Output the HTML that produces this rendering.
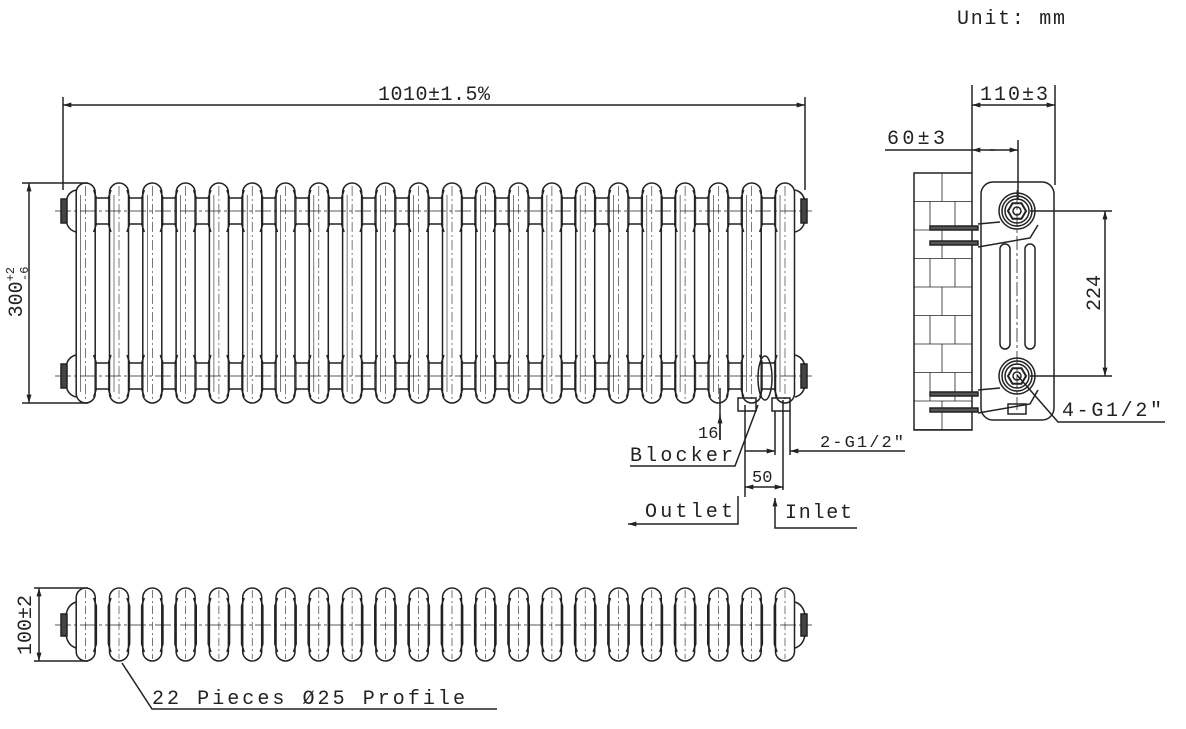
<!DOCTYPE html>
<html><head><meta charset="utf-8"><style>
html,body{margin:0;padding:0;background:#fff;}
svg{display:block;}
text{font-family:"Liberation Mono","DejaVu Sans Mono",monospace;fill:#222;}
</style></head><body>
<svg id="s" width="1186" height="729" viewBox="0 0 1186 729" xmlns="http://www.w3.org/2000/svg">
<defs>
<marker id="a" viewBox="0 0 10 6" refX="10" refY="3" markerWidth="12" markerHeight="5" orient="auto-start-reverse" markerUnits="userSpaceOnUse"><path d="M0,0L10,3L0,6z" fill="#222"/></marker>
</defs>
<g stroke="#222" fill="none" stroke-width="1.5" id="g">
<line x1="63" y1="97" x2="63" y2="190"/>
<line x1="805" y1="97" x2="805" y2="190"/>
<line x1="63" y1="105" x2="805" y2="105" marker-start="url(#a)" marker-end="url(#a)"/>
<line x1="22" y1="183" x2="88" y2="183"/>
<line x1="22" y1="403" x2="88" y2="403"/>
<line x1="29" y1="183" x2="29" y2="403" marker-start="url(#a)" marker-end="url(#a)"/>
<line x1="34" y1="588" x2="88" y2="588"/>
<line x1="34" y1="661" x2="88" y2="661"/>
<line x1="39" y1="588" x2="39" y2="661" marker-start="url(#a)" marker-end="url(#a)"/>
<polyline points="122,663 152,709 497,709"/>
<rect x="738" y="398" width="18" height="13"/>
<rect x="772" y="398" width="18" height="13"/>
<ellipse cx="765" cy="378" rx="7" ry="22"/>
<line x1="720" y1="388" x2="720" y2="440"/>
<line x1="720" y1="440" x2="720" y2="415" marker-end="url(#a)"/>
<line x1="745" y1="405" x2="745" y2="497"/>
<line x1="783" y1="400" x2="783" y2="490"/>
<line x1="775" y1="411" x2="775" y2="455"/>
<line x1="790" y1="411" x2="790" y2="455"/>
<polyline points="630,466 735,466 758,405"/>
<line x1="745" y1="451" x2="775" y2="451" marker-end="url(#a)"/>
<line x1="905" y1="451" x2="790" y2="451" marker-end="url(#a)"/>
<line x1="745" y1="487" x2="783" y2="487" marker-start="url(#a)" marker-end="url(#a)"/>
<polyline points="738,496 738,524 628,524" marker-end="url(#a)"/>
<polyline points="857,528 775,528 775,498" marker-end="url(#a)"/>
<rect x="914" y="173" width="58" height="257"/>
<line x1="972" y1="85" x2="972" y2="173"/>
<line x1="1055" y1="85" x2="1055" y2="185"/>
<line x1="972" y1="105" x2="1055" y2="105" marker-start="url(#a)" marker-end="url(#a)"/>
<line x1="1018" y1="140" x2="1018" y2="200"/>
<line x1="885" y1="150" x2="972" y2="150"/>
<line x1="990" y1="150" x2="1018" y2="150" marker-end="url(#a)"/>
<line x1="995" y1="150" x2="972" y2="150" marker-end="url(#a)"/>
<rect x="981" y="182" width="73" height="238" rx="12"/>
<rect x="1000" y="244" width="10" height="105" rx="5"/>
<rect x="1025" y="244" width="10" height="105" rx="5"/>
<line x1="1017" y1="190" x2="1017" y2="410" stroke-dasharray="14,3,3,3" stroke-width="0.8"/>
<line x1="1030" y1="211" x2="1112" y2="211"/>
<line x1="1030" y1="376" x2="1112" y2="376"/>
<line x1="1105" y1="211" x2="1105" y2="376" marker-start="url(#a)" marker-end="url(#a)"/>
<polyline points="1017,375 1058,422 1165,422"/>
<rect x="1008" y="404" width="18" height="10"/>
</g>
<g font-size="20">
<text x="378" y="100" textLength="112" lengthAdjust="spacing">1010±1.5%</text>
<text x="957" y="24" textLength="108" lengthAdjust="spacing">Unit: mm</text>
<text x="980" y="100" textLength="68" lengthAdjust="spacing">110±3</text>
<text x="887" y="144" textLength="58" lengthAdjust="spacing">60±3</text>
<text transform="translate(1100,293) rotate(-90)" text-anchor="middle">224</text>
<text x="1062" y="416" textLength="100" lengthAdjust="spacing">4-G1/2″</text>
<text transform="translate(22,292) rotate(-90)" text-anchor="middle">300<tspan font-size="12" dy="-8">+2</tspan><tspan font-size="12" dx="-14" dy="14">-6</tspan></text>
<text transform="translate(31,625) rotate(-90)" text-anchor="middle">100±2</text>
<text x="698" y="438" font-size="17">16</text>
<text x="630" y="461" textLength="103" lengthAdjust="spacing">Blocker</text>
<text x="820" y="447" font-size="17" textLength="84" lengthAdjust="spacing">2-G1/2″</text>
<text x="752" y="482" font-size="17">50</text>
<text x="645" y="517" textLength="88" lengthAdjust="spacing">Outlet</text>
<text x="785" y="518" textLength="67" lengthAdjust="spacing">Inlet</text>
<text x="152" y="704" textLength="313" lengthAdjust="spacing">22 Pieces Ø25 Profile</text>
</g>
</svg>
<script>
var g=document.getElementById('g'),ns='http://www.w3.org/2000/svg';
function el(t,a){var e=document.createElementNS(ns,t);for(var k in a)e.setAttribute(k,a[k]);g.appendChild(e);return e;}
for(var i=0;i<22;i++){var c=85.7+33.3*i;
 el('rect',{x:c-9.5,y:183,width:19,height:220,rx:9.5});
 el('line',{x1:c,y1:186,x2:c,y2:400,'stroke-dasharray':'10,3,2,3','stroke-width':0.6});
 el('line',{x1:c-5,y1:195,x2:c-5,y2:392,'stroke-width':0.6});
 el('rect',{x:c-9.5,y:588,width:19,height:73,rx:9.5});
 el('line',{x1:c,y1:590,x2:c,y2:659,'stroke-dasharray':'8,3,2,3','stroke-width':0.6});
 if(i<21){var m=c+16.65;
  [[190,232],[355,397]].forEach(function(b){
   el('path',{d:'M'+(c+8)+','+b[0]+' L'+(m-6)+','+(b[0]+8)+' L'+(m+6)+','+(b[0]+8)+' L'+(c+25.3)+','+b[0]});
   el('path',{d:'M'+(c+8)+','+b[1]+' L'+(m-6)+','+(b[1]-8)+' L'+(m+6)+','+(b[1]-8)+' L'+(c+25.3)+','+b[1]});
   el('line',{x1:m-6,y1:b[0]+8,x2:m-6,y2:b[1]-8,'stroke-width':0.8});
   el('line',{x1:m+6,y1:b[0]+8,x2:m+6,y2:b[1]-8,'stroke-width':0.8});
  });
  el('path',{d:'M'+(c+8)+',598 L'+(m-6)+',606 L'+(m-6)+',644 L'+(c+8)+',652'});
  el('path',{d:'M'+(c+25.3)+',598 L'+(m+6)+',606 L'+(m+6)+',644 L'+(c+25.3)+',652'});
 }}
[211,376].forEach(function(y){
 el('line',{x1:55,y1:y,x2:812,y2:y,'stroke-dasharray':'16,3,3,3','stroke-width':0.7});
 el('path',{d:'M76,'+(y-21)+' Q64,'+(y-18)+' 66,'+y+' Q64,'+(y+18)+' 76,'+(y+21)});
 el('rect',{x:61,y:y-12,width:6,height:24,fill:'#444'});
 el('path',{d:'M795,'+(y-21)+' Q807,'+(y-18)+' 805,'+y+' Q807,'+(y+18)+' 795,'+(y+21)});
 el('rect',{x:801,y:y-12,width:6,height:24,fill:'#444'});
 el('circle',{cx:1017,cy:y,r:18});el('circle',{cx:1017,cy:y,r:15});el('circle',{cx:1017,cy:y,r:12});
 el('polygon',{points:[0,1,2,3,4,5].map(function(k){var a=k*Math.PI/3;return (1017+9*Math.cos(a))+','+(y+9*Math.sin(a));}).join(' '),'stroke-width':2});
 el('circle',{cx:1017,cy:y,r:4});
});
el('line',{x1:55,y1:625,x2:812,y2:625,'stroke-dasharray':'16,3,3,3','stroke-width':0.7});
el('path',{d:'M76,602 Q64,606 66,625 Q64,644 76,648'});el('rect',{x:61,y:614,width:6,height:22,fill:'#444'});
el('path',{d:'M795,602 Q807,606 805,625 Q807,644 795,648'});el('rect',{x:801,y:614,width:6,height:22,fill:'#444'});
for(var y=173,r=0;y<430;y+=28.5,r++){el('line',{x1:914,y1:y,x2:972,y2:y,'stroke-width':0.8});
 var xs=r%2?[930,955]:[942];xs.forEach(function(x){el('line',{x1:x,y1:y,x2:x,y2:Math.min(y+28.5,430),'stroke-width':0.8});});}
[228,243,394,410].forEach(function(y){el('rect',{x:930,y:y-2,width:48,height:4,fill:'#555'});});
el('path',{d:'M978,224 L1000,222 M978,247 L1030,238 L1038,225'});
el('path',{d:'M978,390 L1000,388 M978,413 L1030,404 L1038,390'});
</script>
</body></html>
